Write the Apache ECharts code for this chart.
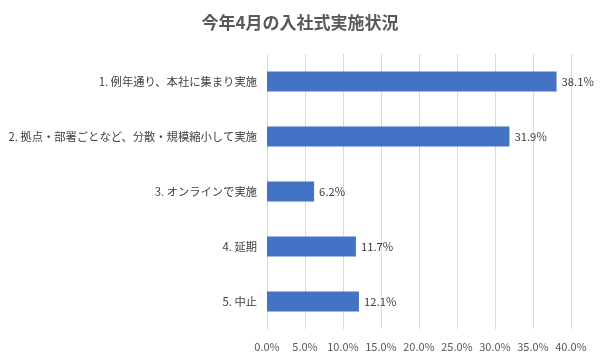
<!DOCTYPE html>
<html><head><meta charset="utf-8">
<script src="https://cdn.jsdelivr.net/npm/echarts@6/dist/echarts.min.js"></script>
<style>html,body{margin:0;padding:0;background:#fff}#c{width:600px;height:359px}</style>
</head><body><div id="c"></div>
<script>
const categories = ["1. 例年通り、本社に集まり実施","2. 拠点・部署ごとなど、分散・規模縮小して実施","3. オンラインで実施","4. 延期","5. 中止"];
const values = [38.1, 31.9, 6.2, 11.7, 12.1];
const titleText = "今年4月の入社式実施状況";
const font = "'Noto Sans CJK JP', 'Noto Sans', sans-serif";
const chart = echarts.init(document.getElementById('c'));
chart.setOption({
  animation:false,
  title:{text:titleText,left:'center',top:9,textStyle:{fontFamily:font,fontSize:17,fontWeight:'bold',color:'#595959'}},
  grid:{left:267,right:29,top:54,bottom:30,containLabel:false},
  xAxis:{type:'value',min:0,max:40,interval:5,
    axisLabel:{formatter:v=>v.toFixed(1)+'%',fontFamily:font,fontSize:11,color:'#595959',margin:12},
    splitLine:{lineStyle:{color:'#d9d9d9'}},axisLine:{show:false},axisTick:{show:false}},
  yAxis:{type:'category',inverse:true,data:categories,
    axisLine:{show:true,lineStyle:{color:'#d9d9d9'}},axisTick:{show:false},
    axisLabel:{fontFamily:font,fontSize:11.3,color:'#404040',margin:10}},
  series:[{type:'bar',data:values,barWidth:20,itemStyle:{color:'#4472C4'},
    label:{show:true,position:'right',formatter:p=>p.value.toFixed(1)+'%',fontFamily:font,fontSize:11.3,color:'#404040'}}]
});
</script></body></html>
